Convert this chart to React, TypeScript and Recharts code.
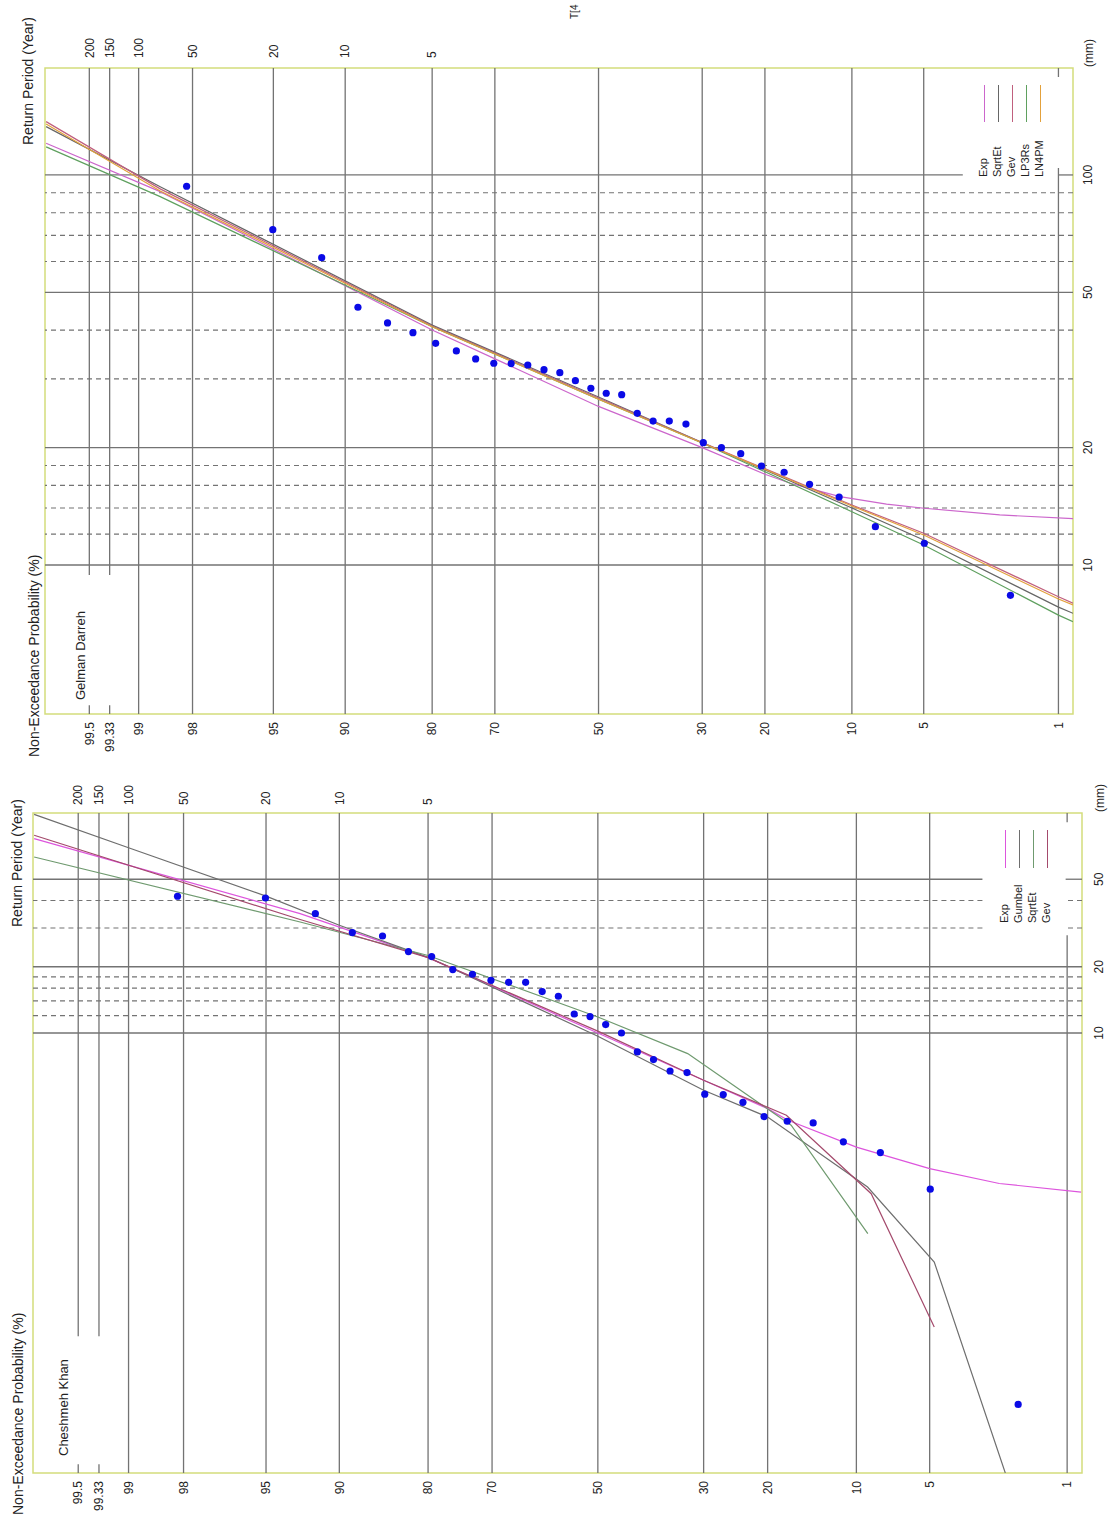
import React from "react";
import {
  ComposedChart,
  Line,
  ReferenceArea,
  ReferenceLine,
  Scatter,
  XAxis,
  YAxis,
} from "recharts";

// non-exceedance probability (%) of the ranked samples, 32 years at both stations
const samplePercent = [
  1.86, 4.97, 8.07, 11.18, 14.29, 17.39, 20.5, 23.6, 26.71, 29.81, 32.92, 36.02,
  39.13, 42.24, 45.34, 48.45, 51.55, 54.66, 57.76, 60.87, 63.98, 67.08, 70.19,
  73.29, 76.4, 79.5, 82.61, 85.71, 88.82, 91.93, 95.03, 98.14,
];
const gelmanRain = [
  8.36, 11.37, 12.54, 14.94, 16.1, 17.29, 17.94, 19.29, 19.99, 20.59, 22.98, 23.39,
  23.39, 24.49, 27.33, 27.56, 28.39, 29.69, 31.13, 31.68, 32.57, 32.85, 32.9, 33.75,
  35.38, 37.02, 39.41, 41.74, 45.8, 61.37, 72.38, 93.55,
];
const cheshmehRain = [
  0.205, 1.95, 2.86, 3.2, 3.9, 3.97, 4.17, 4.84, 5.25, 5.27, 6.61, 6.72, 7.57, 8.2,
  10.0, 10.92, 11.87, 12.2, 14.69, 15.43, 17.0, 17.0, 17.36, 18.49, 19.42, 22.25,
  23.44, 27.6, 28.6, 34.88, 41.08, 41.83,
];

const probTicks = [1, 5, 10, 20, 30, 50, 70, 80, 90, 95, 98, 99, 99.33, 99.5];
const returnTickP = [99.5, 99.33, 99, 98, 95, 90, 80];
const returnLabels = ["200", "150", "100", "50", "20", "10", "5"];

// fitted curves, Gelman Darreh
const gdLineP = [0.82, 1, 5, 10, 30, 50, 80, 98.67, 99.74];
const gdGevMm = [7.98, 8.29, 12.06, 14.25, 20.6, 26.8, 41.0, 92.1, 137.0];
const gdSqrtEtMm = [7.52, 7.8, 11.59, 14.0, 20.6, 26.97, 41.2, 93.3, 133.0];
const gdLp3Mm = [7.16, 7.44, 11.25, 13.7, 20.55, 26.6, 40.8, 88.0, 118.0];
const gdLn4Mm = [7.9, 8.18, 11.94, 14.17, 20.55, 26.6, 40.8, 91.0, 135.1];
const gdExpP = [0.82, 2.12, 4.98, 7.26, 11.1, 16.6, 20, 30, 50, 80, 98.67, 99.74];
const gdExpMm = [13.15, 13.44, 13.98, 14.33, 14.97, 16.2, 17.09, 20.0, 25.5, 40.05, 90.6, 120.6];

// fitted curves, Cheshmeh Khan
const ckGumbelP = [2.17, 4.77, 9.06, 20, 30, 50, 80, 90, 95, 99, 99.74];
const ckGumbelMm = [0.1, 0.91, 1.995, 4.15, 5.49, 9.66, 22.08, 30.87, 41.9, 69.5, 98.6];
const ckGevP = [4.77, 8.77, 17.5, 30, 50, 80, 93, 99.74];
const ckGevMm = [0.461, 1.86, 4.23, 6.1, 10.2, 22.0, 32.8, 79.2];
const ckExpP = [0.83, 2.33, 5, 10, 17.3, 20, 30, 50, 80, 93, 99.74];
const ckExpMm = [1.89, 2.07, 2.42, 3.03, 4.01, 4.53, 6.1, 10.0, 22.0, 34.9, 76.5];
const ckSqrtEtP = [9.04, 16.9, 32.8, 50, 80, 93, 99.74];
const ckSqrtEtMm = [1.225, 3.81, 8.06, 11.82, 22.5, 31.96, 63.1];

// inverse standard normal (Acklam), probability paper axis
function probit(p: number) {
  const a = [-39.69683028665376, 220.9460984245205, -275.9285104469687, 138.357751867269, -30.66479806614716, 2.506628277459239];
  const b = [-54.47609879822406, 161.5858368580409, -155.6989798598866, 66.80131188771972, -13.28068155288572];
  const c = [-0.007784894002430293, -0.3223964580411365, -2.400758277161838, -2.549732539343734, 4.374664141464968, 2.938163982698783];
  const d = [0.007784695709041462, 0.3224671290700398, 2.445134137142996, 3.754408661907416];
  const lo = 0.02425;
  if (p < lo) {
    const q = Math.sqrt(-2 * Math.log(p));
    return (((((c[0] * q + c[1]) * q + c[2]) * q + c[3]) * q + c[4]) * q + c[5]) /
      ((((d[0] * q + d[1]) * q + d[2]) * q + d[3]) * q + 1);
  }
  if (p > 1 - lo) {
    const q = Math.sqrt(-2 * Math.log(1 - p));
    return -(((((c[0] * q + c[1]) * q + c[2]) * q + c[3]) * q + c[4]) * q + c[5]) /
      ((((d[0] * q + d[1]) * q + d[2]) * q + d[3]) * q + 1);
  }
  const q = p - 0.5;
  const r = q * q;
  return ((((((a[0] * r + a[1]) * r + a[2]) * r + a[3]) * r + a[4]) * r + a[5]) * q) /
    (((((b[0] * r + b[1]) * r + b[2]) * r + b[3]) * r + b[4]) * r + 1);
}
const zOf = (pct: number) => probit(pct / 100);

const FONT = "'Liberation Sans', Arial, sans-serif";
const Z_DOMAIN: [number, number] = [-2.4, 2.8];
const tickStyle = { fontSize: 12, fill: "#222", fontFamily: FONT };

type Series = { name: string; color: string; p: number[]; mm: number[]; legend: boolean };

type PanelCfg = {
  left: number;
  width: number;
  top: number;
  leftW: number;
  rightW: number;
  xHeight: number;
  xTickMargin: number;
  rightTickMargin: number;
  mmDomain: [number, number];
  mmTicks: number[];
  mmSolid: number[];
  mmDashed: number[];
  mmGaps: Record<number, [number, number]>; // gap in % along the line
  pGaps: Record<number, [number, number]>; // gap in mm along the line
  series: Series[];
  rain: number[];
};

const gelmanSeries: Series[] = [
  { name: "Exp", color: "#cc66cc", p: gdExpP, mm: gdExpMm, legend: true },
  { name: "SqrtEt", color: "#666666", p: gdLineP, mm: gdSqrtEtMm, legend: true },
  { name: "Gev", color: "#c0607e", p: gdLineP, mm: gdGevMm, legend: true },
  { name: "LP3Rs", color: "#5fa05f", p: gdLineP, mm: gdLp3Mm, legend: true },
  { name: "LN4PM", color: "#e3a13c", p: gdLineP, mm: gdLn4Mm, legend: true },
];

const cheshmehSeries: Series[] = [
  { name: "Exp", color: "#dd55dd", p: ckExpP, mm: ckExpMm, legend: true },
  { name: "Gumbel", color: "#6e6e6e", p: ckGumbelP, mm: ckGumbelMm, legend: true },
  { name: "SqrtEt", color: "#6f9a6f", p: ckSqrtEtP, mm: ckSqrtEtMm, legend: true },
  { name: "Gev", color: "#a44a6c", p: ckGevP, mm: ckGevMm, legend: true },
];

const gelmanCfg: PanelCfg = {
  left: 760,
  width: 759,
  top: 45,
  leftW: 45,
  rightW: 68,
  xHeight: 38,
  xTickMargin: 4,
  rightTickMargin: 4,
  mmDomain: [4.15, 188],
  mmTicks: [10, 20, 50, 100],
  mmSolid: [10, 20, 50, 100],
  mmDashed: [12, 14, 16, 18, 30, 40, 60, 70, 80, 90],
  mmGaps: { 100: [1.0, 3.27] },
  pGaps: { 99.5: [4.37, 9.43], 99.33: [4.37, 9.43], 1: [104.2, 178.3] },
  series: gelmanSeries,
  rain: gelmanRain,
};

const cheshmehCfg: PanelCfg = {
  left: 0,
  width: 760,
  top: 33,
  leftW: 46,
  rightW: 54,
  xHeight: 29,
  xTickMargin: 6,
  rightTickMargin: 2,
  mmDomain: [0.1, 100],
  mmTicks: [10, 20, 50],
  mmSolid: [10, 20, 50],
  mmDashed: [12, 14, 16, 18, 30, 40],
  mmGaps: { 50: [1.02, 2.83], 40: [1.02, 2.83], 30: [1.02, 2.83] },
  pGaps: { 99.5: [0.1096, 0.418], 99.33: [0.1096, 0.418], 1: [27.8, 90.7] },
  series: cheshmehSeries,
  rain: cheshmehRain,
};

const GRID = "#737373";

function Dot(props: any) {
  const { cx, cy } = props;
  if (cx == null || cy == null) return null;
  return <circle cx={cx} cy={cy} r={3.6} fill="#0a0ae6" />;
}

function Panel({ cfg }: { cfg: PanelCfg }) {
  const [m0, m1] = cfg.mmDomain;
  const [z0, z1] = Z_DOMAIN;

  const probLines = probTicks.flatMap((p) => {
    const z = zOf(p);
    const gap = cfg.pGaps[p];
    const parts: [number, number][] = gap ? [[m0, gap[0]], [gap[1], m1]] : [[m0, m1]];
    return parts.map(([a, b], i) => (
      <ReferenceLine
        key={`p${p}-${i}`}
        yAxisId="p"
        segment={[{ x: a, y: z }, { x: b, y: z }]}
        stroke={GRID}
        strokeWidth={1.3}
        ifOverflow="visible"
      />
    ));
  });

  const mmLine = (v: number, dashed: boolean) => {
    const gap = cfg.mmGaps[v];
    const parts: [number, number][] = gap ? [[z0, zOf(gap[0])], [zOf(gap[1]), z1]] : [[z0, z1]];
    return parts.map(([a, b], i) => (
      <ReferenceLine
        key={`m${v}-${i}`}
        yAxisId="p"
        segment={[{ x: v, y: a }, { x: v, y: b }]}
        stroke={GRID}
        strokeWidth={dashed ? 1.1 : 1.3}
        strokeDasharray={dashed ? "5 4" : undefined}
        ifOverflow="visible"
      />
    ));
  };

  const points = cfg.rain.map((mm, i) => ({ mm, z: zOf(samplePercent[i]) }));

  return (
    <div style={{ position: "absolute", left: cfg.left, top: 0 }}>
      <ComposedChart
        width={cfg.width}
        height={1111}
        margin={{ top: cfg.top, right: 0, bottom: 0, left: 0 }}
      >
        <XAxis
          type="number"
          dataKey="mm"
          scale="log"
          domain={cfg.mmDomain}
          allowDataOverflow
          ticks={cfg.mmTicks}
          interval={0}
          height={cfg.xHeight}
          tickLine={false}
          axisLine={false}
          tickMargin={cfg.xTickMargin}
          tick={tickStyle}
        />
        <YAxis
          yAxisId="p"
          type="number"
          dataKey="z"
          domain={Z_DOMAIN}
          allowDataOverflow
          ticks={probTicks.map(zOf)}
          interval={0}
          width={cfg.leftW}
          tickLine={false}
          axisLine={false}
          tick={tickStyle}
          tickFormatter={(v: number) => {
            const i = probTicks.findIndex((p) => Math.abs(zOf(p) - v) < 1e-9);
            return i >= 0 ? String(probTicks[i]) : "";
          }}
        />
        <YAxis
          yAxisId="t"
          orientation="right"
          type="number"
          domain={Z_DOMAIN}
          allowDataOverflow
          ticks={returnTickP.map(zOf)}
          interval={0}
          width={cfg.rightW}
          tickLine={false}
          axisLine={false}
          tickMargin={cfg.rightTickMargin}
          tick={tickStyle}
          tickFormatter={(v: number) => {
            const i = returnTickP.findIndex((p) => Math.abs(zOf(p) - v) < 1e-9);
            return i >= 0 ? returnLabels[i] : "";
          }}
        />
        {probLines}
        {cfg.mmSolid.map((v) => mmLine(v, false))}
        {cfg.mmDashed.map((v) => mmLine(v, true))}
        <ReferenceArea
          yAxisId="p"
          x1={m0}
          x2={m1}
          y1={z0}
          y2={z1}
          fill="none"
          fillOpacity={0}
          stroke="#d4dd7c"
          strokeWidth={1.5}
          ifOverflow="visible"
        />
        {cfg.series.map((s) => (
          <Line
            key={s.name}
            yAxisId="p"
            type="linear"
            data={s.mm.map((mm, i) => ({ mm, z: zOf(s.p[i]) }))}
            dataKey="z"
            stroke={s.color}
            strokeWidth={1.2}
            dot={false}
            activeDot={false}
            isAnimationActive={false}
          />
        ))}
        <Scatter yAxisId="p" data={points} dataKey="z" shape={<Dot />} isAnimationActive={false} />
      </ComposedChart>
    </div>
  );
}

function Text({ x, y, size, children }: { x: number; y: number; size: number; children: React.ReactNode }) {
  return (
    <div
      style={{
        position: "absolute",
        left: x,
        top: y - size * 0.6,
        fontSize: size,
        lineHeight: `${Math.round(size * 1.2)}px`,
        fontFamily: FONT,
        color: "#222",
        whiteSpace: "nowrap",
      }}
    >
      {children}
    </div>
  );
}

function Legend({ items, textX, lineX, lineW, rows }: { items: Series[]; textX: number; lineX: number; lineW: number; rows: number[] }) {
  return (
    <>
      {items.filter((s) => s.legend).map((s, i) => (
        <React.Fragment key={s.name}>
          <Text x={textX} y={rows[i]} size={11}>
            {s.name}
          </Text>
          <div
            style={{
              position: "absolute",
              left: lineX,
              top: rows[i],
              width: lineW,
              borderTop: `1.2px solid ${s.color}`,
            }}
          />
        </React.Fragment>
      ))}
    </>
  );
}

export default function App() {
  return (
    <div style={{ position: "absolute", left: 0, top: 0, width: 1111, height: 1519, overflow: "hidden", background: "#fff" }}>
      <div
        style={{
          position: "absolute",
          left: 0,
          top: 0,
          width: 1519,
          height: 1111,
          transformOrigin: "0 0",
          transform: "translate(0px, 1519px) rotate(-90deg)",
          background: "#fff",
        }}
      >
        <Panel cfg={cheshmehCfg} />
        <Panel cfg={gelmanCfg} />

        <Text x={4} y={18} size={14}>Non-Exceedance Probability (%)</Text>
        <Text x={592} y={17} size={14}>Return Period (Year)</Text>
        <Text x={707} y={1100} size={12}>(mm)</Text>
        <Text x={63} y={64} size={13}>Cheshmeh Khan</Text>
        <Legend items={cheshmehSeries} textX={596} lineX={651} lineW={38} rows={[1005, 1019, 1033, 1047]} />

        <Text x={762} y={34} size={14}>Non-Exceedance Probability (%)</Text>
        <Text x={1374} y={28} size={14}>Return Period (Year)</Text>
        <Text x={1452} y={1089} size={12}>(mm)</Text>
        <Text x={819} y={81} size={13}>Gelman Darreh</Text>
        <Legend items={gelmanSeries} textX={1342} lineX={1397} lineW={37} rows={[984, 998, 1012, 1026, 1040]} />
        <Text x={1500} y={575} size={10}>T[4</Text>
      </div>
    </div>
  );
}
